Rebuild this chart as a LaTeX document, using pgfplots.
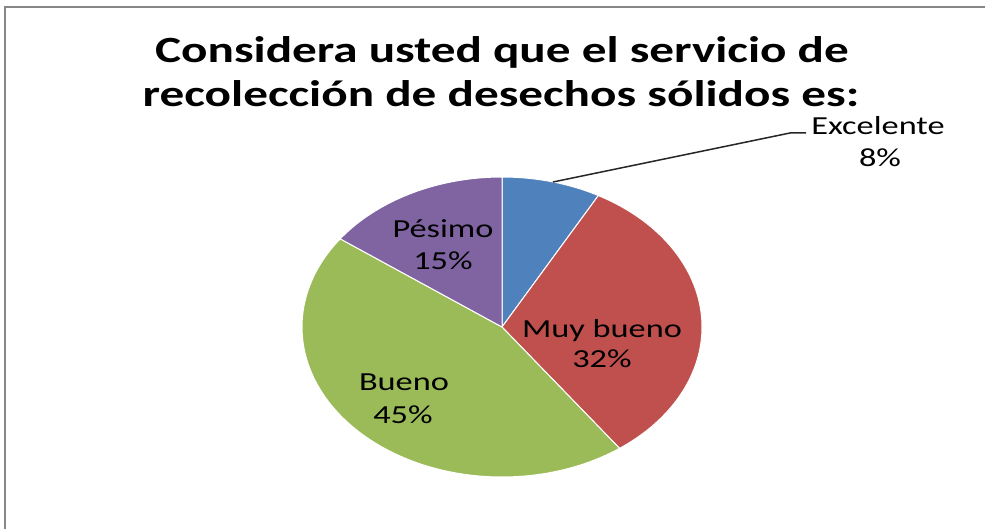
\documentclass[border=0pt]{standalone}
\usepackage{pgfplots}
\pgfplotsset{compat=1.18}
\usepackage{pgfplotstable}
\usepackage{graphicx}
\usepackage{fontspec}
\setmainfont{Carlito}
\definecolor{pblue}{HTML}{4F81BD}
\definecolor{pred}{HTML}{C0504D}
\definecolor{pgreen}{HTML}{9BBB59}
\definecolor{ppurple}{HTML}{8064A2}
\definecolor{framegray}{HTML}{878787}

\pgfplotstableread{
label pct
Excelente 8
Muybueno 32
Bueno 45
Pesimo 15
}\piedata
\pgfplotstablegetelem{0}{pct}\of\piedata \let\vA\pgfplotsretval
\pgfplotstablegetelem{1}{pct}\of\piedata \let\vB\pgfplotsretval
\pgfplotstablegetelem{2}{pct}\of\piedata \let\vC\pgfplotsretval
\pgfplotstablegetelem{3}{pct}\of\piedata \let\vD\pgfplotsretval
\pgfmathsetmacro\aA{0}
\pgfmathsetmacro\aB{\aA+3.6*\vA}
\pgfmathsetmacro\aC{\aB+3.6*\vB}
\pgfmathsetmacro\aD{\aC+3.6*\vC}
\pgfmathsetmacro\aE{\aD+3.6*\vD}
\def\cx{502}\def\cy{327}\def\rx{200}\def\ry{150}

\begin{document}%
\begin{tikzpicture}
\begin{axis}[
  width=985pt, height=529pt, scale only axis,
  xmin=0, xmax=985, ymin=0, ymax=529, y dir=reverse,
  hide axis, clip=false,
]
\addplot[fill=pblue, draw=white, line width=1pt, domain=\aA:\aB, samples=40, variable=\t]
  ({\cx+\rx*sin(\t)},{\cy-\ry*cos(\t)}) -- (axis cs:\cx,\cy) -- cycle;
\addplot[fill=pred, draw=white, line width=1pt, domain=\aB:\aC, samples=80, variable=\t]
  ({\cx+\rx*sin(\t)},{\cy-\ry*cos(\t)}) -- (axis cs:\cx,\cy) -- cycle;
\addplot[fill=pgreen, draw=white, line width=1pt, domain=\aC:\aD, samples=100, variable=\t]
  ({\cx+\rx*sin(\t)},{\cy-\ry*cos(\t)}) -- (axis cs:\cx,\cy) -- cycle;
\addplot[fill=ppurple, draw=white, line width=1pt, domain=\aD:\aE, samples=40, variable=\t]
  ({\cx+\rx*sin(\t)},{\cy-\ry*cos(\t)}) -- (axis cs:\cx,\cy) -- cycle;

% frame (left and top edges only)
\draw[framegray, line width=2.5pt] (axis cs:5,529) -- (axis cs:5,7) -- (axis cs:985,7);

% title
\node[anchor=base, inner sep=0pt, font=\fontsize{37}{45}\selectfont\bfseries]
  at (axis cs:502,63) {\scalebox{1.33}[1]{Considera usted que el servicio de}};
\node[anchor=base, inner sep=0pt, font=\fontsize{37}{45}\selectfont\bfseries]
  at (axis cs:501,107) {\scalebox{1.33}[1]{recolección de desechos sólidos es:}};

% leader line
\draw[black!85, line width=1.5pt] (axis cs:553,182) -- (axis cs:790,133) -- (axis cs:806,133);

% labels
\tikzset{lab/.style={anchor=base, inner sep=0pt, font=\fontsize{26}{32}\selectfont}}
\node[lab] at (axis cs:878,135) {\scalebox{1.32}[1]{Excelente}};
\node[lab] at (axis cs:880,167) {\scalebox{1.32}[1]{8\%}};
\node[lab] at (axis cs:602,337) {\scalebox{1.32}[1]{Muy bueno}};
\node[lab] at (axis cs:602,367) {\scalebox{1.32}[1]{32\%}};
\node[lab] at (axis cs:443,238) {\scalebox{1.32}[1]{Pésimo}};
\node[lab] at (axis cs:443,270) {\scalebox{1.32}[1]{15\%}};
\node[lab] at (axis cs:404,390) {\scalebox{1.32}[1]{Bueno}};
\node[lab] at (axis cs:403,423) {\scalebox{1.32}[1]{45\%}};
\end{axis}
\pgfresetboundingbox
\useasboundingbox (0,0) rectangle (985pt,529pt);
\end{tikzpicture}%
\end{document}
